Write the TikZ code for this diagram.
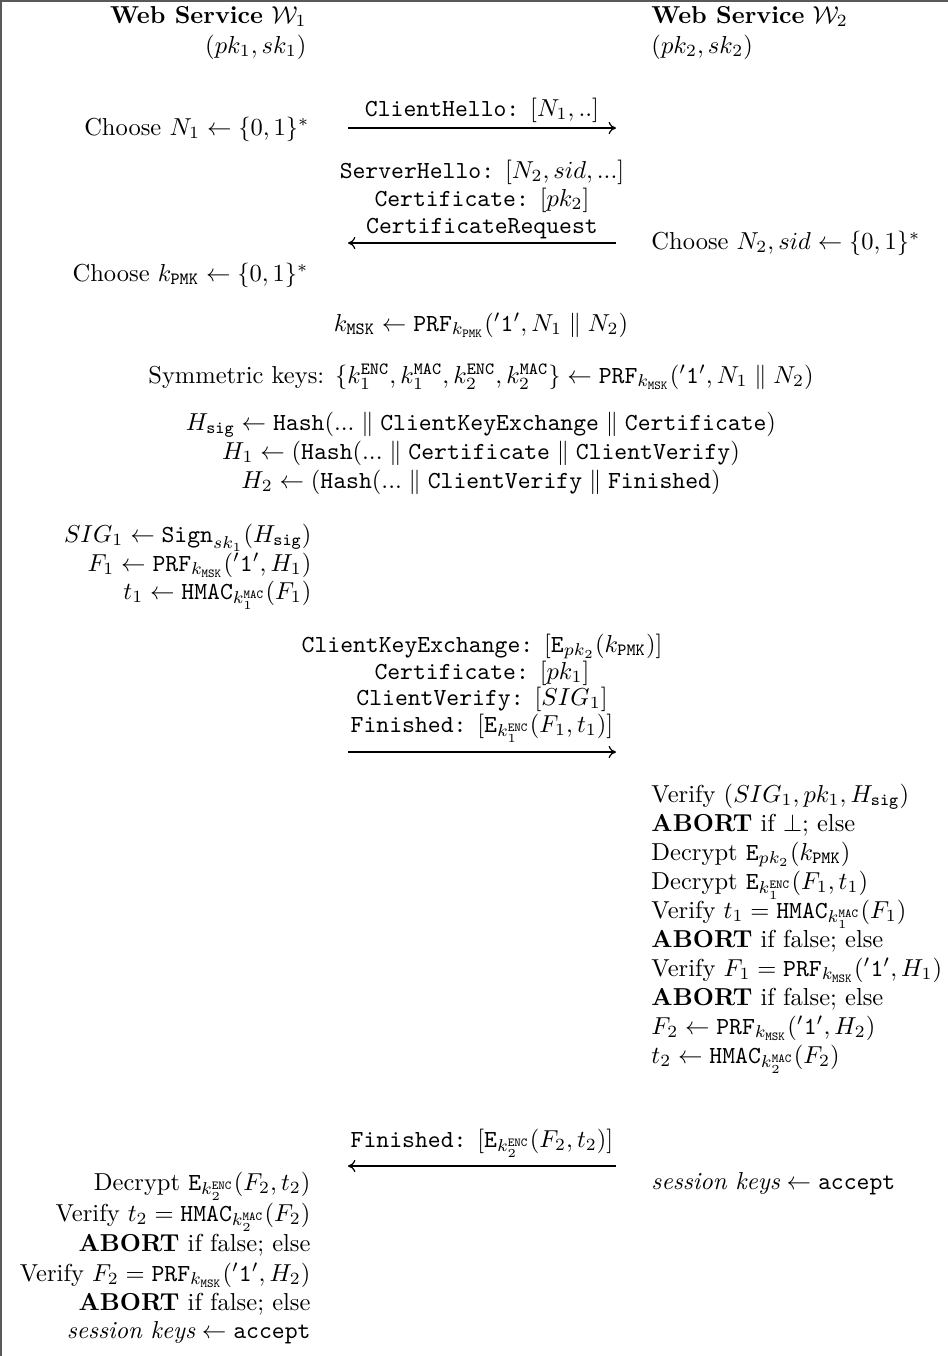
\documentclass[tikz,border=0pt]{standalone}
\usepackage{amsmath,amssymb}
\usetikzlibrary{arrows.meta}
\newcommand{\ttm}[1]{\mathtt{#1}}
\newcommand{\kk}[1]{k_{\mathtt{#1}}}
\begin{document}
\begin{tikzpicture}[x=0.408pt,y=-0.408pt,
  R/.style={anchor=base east, inner sep=0pt},
  Lf/.style={anchor=base west, inner sep=0pt},
  C/.style={anchor=base, inner sep=0pt},
  msg/.style={-{To[length=3pt,width=5pt]}, line width=0.5pt},
  frame/.style={draw=black!65, line width=1pt}]
\useasboundingbox (0,0) rectangle (948,1356);
\draw[frame] (1,1356) -- (1,1) -- (948,1);

% headers
\node[R] (w1) at (307,23) {\textbf{Web Service} $\mathcal{W}_1$};
\node[R] (pk1) at (307,53) {$(pk_1, sk_1)$};
\node[Lf] (w2) at (651,23) {\textbf{Web Service} $\mathcal{W}_2$};
\node[Lf] (pk2) at (651,53) {$(pk_2, sk_2)$};

% ClientHello
\node[R] (cn1) at (310,135) {Choose $N_1 \leftarrow \{0,1\}^*$};
\coordinate (m1l) at (348,128);
\coordinate (m1r) at (616,128);
\draw[msg] (m1l) -- (m1r);
\node[C] (m1) at (482,116) {\texttt{ClientHello:} $[N_1, ..]$};

% ServerHello
\node[C] (m2a) at (482,178) {\texttt{ServerHello:} $[N_2, sid, ...]$};
\node[C] (m2b) at (482,206) {\texttt{Certificate:} $[pk_2]$};
\node[C] (m2c) at (482,233) {\texttt{CertificateRequest}};
\coordinate (m2l) at (348,243);
\coordinate (m2r) at (616,243);
\draw[msg] (m2r) -- (m2l);
\node[Lf] (cn2) at (651,249) {Choose $N_2, sid \leftarrow \{0,1\}^*$};
\node[R] (ckp) at (309,281) {Choose $\kk{PMK} \leftarrow \{0,1\}^*$};

% shared computations
\node[C] (kmsk) at (481,331) {$\kk{MSK} \leftarrow \ttm{PRF}_{\kk{PMK}}('\ttm{1}', N_1 \parallel N_2)$};
\node[C] (sym) at (481,383) {Symmetric keys: $\{k_1^{\ttm{ENC}}, k_1^{\ttm{MAC}}, k_2^{\ttm{ENC}}, k_2^{\ttm{MAC}}\} \leftarrow \ttm{PRF}_{\kk{MSK}}('\ttm{1}', N_1 \parallel N_2)$};
\node[C] (hsig) at (481,430) {$H_{\ttm{sig}} \leftarrow \ttm{Hash}(... \parallel \ttm{ClientKeyExchange} \parallel \ttm{Certificate})$};
\node[C] (h1) at (481,459) {$H_1 \leftarrow (\ttm{Hash}(... \parallel \ttm{Certificate} \parallel \ttm{ClientVerify})$};
\node[C] (h2) at (481,488) {$H_2 \leftarrow (\ttm{Hash}(... \parallel \ttm{ClientVerify} \parallel \ttm{Finished})$};

% W1 computations
\node[R] (sig1) at (312,542) {$SIG_1 \leftarrow \ttm{Sign}_{sk_1}(H_{\ttm{sig}})$};
\node[R] (f1) at (312,571) {$F_1 \leftarrow \ttm{PRF}_{\kk{MSK}}('\ttm{1}', H_1)$};
\node[R] (t1) at (312,599) {$t_1 \leftarrow \ttm{HMAC}_{k_1^{\ttm{MAC}}}(F_1)$};

% ClientKeyExchange message
\node[C] (m3a) at (482,652) {\texttt{ClientKeyExchange:} $[\ttm{E}_{pk_2}(\kk{PMK})]$};
\node[C] (m3b) at (482,679) {\texttt{Certificate:} $[pk_1]$};
\node[C] (m3c) at (482,705) {\texttt{ClientVerify:} $[SIG_1]$};
\node[C] (m3d) at (482,732) {\texttt{Finished:} $[\ttm{E}_{k_1^{\ttm{ENC}}}(F_1, t_1)]$};
\coordinate (m3l) at (348,752);
\coordinate (m3r) at (616,752);
\draw[msg] (m3l) -- (m3r);

% W2 computations
\node[Lf] (v1) at (651,802) {Verify $(SIG_1, pk_1, H_{\ttm{sig}})$};
\node[Lf] (v2) at (651,831) {\textbf{ABORT} if $\bot$; else};
\node[Lf] (v3) at (651,860) {Decrypt $\ttm{E}_{pk_2}(\kk{PMK})$};
\node[Lf] (v4) at (651,889) {Decrypt $\ttm{E}_{k_1^{\ttm{ENC}}}(F_1, t_1)$};
\node[Lf] (v5) at (651,918) {Verify $t_1 = \ttm{HMAC}_{k_1^{\ttm{MAC}}}(F_1)$};
\node[Lf] (v6) at (651,947) {\textbf{ABORT} if false; else};
\node[Lf] (v7) at (651,976) {Verify $F_1 = \ttm{PRF}_{\kk{MSK}}('\ttm{1}', H_1)$};
\node[Lf] (v8) at (651,1005) {\textbf{ABORT} if false; else};
\node[Lf] (v9) at (651,1034) {$F_2 \leftarrow \ttm{PRF}_{\kk{MSK}}('\ttm{1}', H_2)$};
\node[Lf] (v10) at (651,1063) {$t_2 \leftarrow \ttm{HMAC}_{k_2^{\ttm{MAC}}}(F_2)$};

% Finished from W2
\node[C] (m4) at (482,1147) {\texttt{Finished:} $[\ttm{E}_{k_2^{\ttm{ENC}}}(F_2, t_2)]$};
\coordinate (m4l) at (348,1166);
\coordinate (m4r) at (616,1166);
\draw[msg] (m4r) -- (m4l);
\node[Lf] (acc2) at (651,1189) {$\textit{session keys} \leftarrow \ttm{accept}$};

% W1 final computations
\node[R] (d1) at (311,1190) {Decrypt $\ttm{E}_{k_2^{\ttm{ENC}}}(F_2, t_2)$};
\node[R] (d2) at (311,1221) {Verify $t_2 = \ttm{HMAC}_{k_2^{\ttm{MAC}}}(F_2)$};
\node[R] (d3) at (311,1251) {\textbf{ABORT} if false; else};
\node[R] (d4) at (311,1281) {Verify $F_2 = \ttm{PRF}_{\kk{MSK}}('\ttm{1}', H_2)$};
\node[R] (d5) at (311,1310) {\textbf{ABORT} if false; else};
\node[R] (acc1) at (311,1338) {$\textit{session keys} \leftarrow \ttm{accept}$};
\end{tikzpicture}
\end{document}
